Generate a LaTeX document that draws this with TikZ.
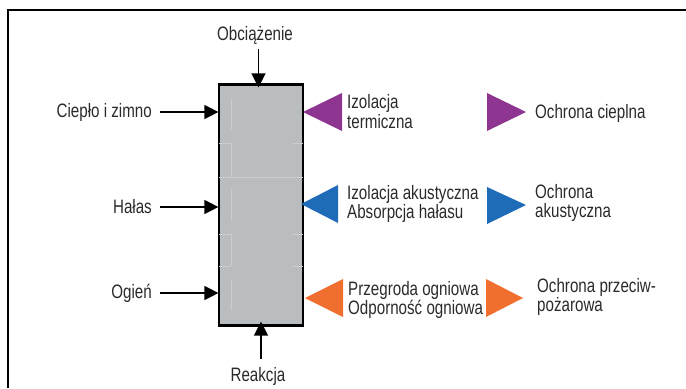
\documentclass[tikz,border=0pt]{standalone}
\usepackage{fontspec}
\setmainfont{Liberation Sans}[FakeStretch=0.78]
\usetikzlibrary{arrows.meta}
\definecolor{txt}{HTML}{2A2A2A}
\definecolor{wallgray}{HTML}{B9BDC0}
\definecolor{seam}{HTML}{CBCED0}
\definecolor{heatc}{HTML}{8E3491}
\definecolor{soundc}{HTML}{1E6BB8}
\definecolor{firec}{HTML}{F06E2E}
\tikzset{
  lbl/.style={text=txt, inner sep=0pt, font=\fontsize{19.5}{20}\selectfont},
  lbll/.style={lbl, anchor=west, align=left},
  lblr/.style={lbl, anchor=east},
  arr/.style={line width=1.4bp, -{Triangle[length=14bp,width=14bp]}},
  frame/.style={line width=2bp, black},
}
\begin{document}
\begin{tikzpicture}[x=1bp,y=-1bp]
\useasboundingbox (0,0) rectangle (686,388);
% open frame
\draw[frame] (8,388) -- (8,10) -- (686,10);

% the wall
\node[fill=wallgray, draw=black, line width=1.2bp, minimum width=84bp, minimum height=240bp, inner sep=0pt] (wall) at (261,205) {};
\begin{scope}[seam, line width=0.8bp]
  \draw (219,143) -- (231,143) (292,143) -- (303,143);
  \draw (219,177) -- (303,177);
  \draw (219,234) -- (231,234) (292,234) -- (303,234);
  \draw (219,266) -- (231,266) (292,266) -- (303,266);
  \draw (231,99) -- (231,130) (231,143) -- (231,177) (231,189) -- (231,220)
        (231,234) -- (231,266) (231,280) -- (231,310);
\end{scope}
\draw[line width=2.6bp] (wall.north west) -- (wall.north east);
\draw[line width=2.6bp] (wall.south west) -- (wall.south east);

% loads from outside
\node[lbl] (load) at (255,35) {Obciążenie};
\node[lbl] (react) at (258,376) {Reakcja};
\node[lblr] (heat) at (152,112) {Ciepło i zimno};
\node[lblr] (noise) at (152,207) {Hałas};
\node[lblr] (fire) at (152,293) {Ogień};

\draw[arr] ([xshift=3.5bp,yshift=-5bp]load.south) -- ([xshift=3.5bp,yshift=-3bp]load.south |- wall.north);
\draw[arr] ([xshift=3bp,yshift=8bp]react.north) -- ([xshift=3bp,yshift=4bp]react.north |- wall.south);
\draw[arr] ([xshift=8bp]heat.east) -- (heat.east -| wall.west);
\draw[arr] ([xshift=8bp]noise.east) -- (noise.east -| wall.west);
\draw[arr] ([xshift=8bp]fire.east) -- (fire.east -| wall.west);

% functions of the wall
\fill[heatc] (303,112) -- (342,93) -- (342,131) -- cycle;
\fill[soundc] (301,204) -- (338,185) -- (338,223) -- cycle;
\fill[firec] (305,298) -- (343,279) -- (343,317) -- cycle;
\node[lbll] (ti) at (347,112) {Izolacja\\termiczna};
\node[lbll] (ai) at (347,204) {Izolacja akustyczna\\Absorpcja hałasu};
\node[lbll] (fi) at (348,300) {Przegroda ogniowa\\Odporność ogniowa};

% resulting protection
\fill[heatc] (487,93) -- (526,112) -- (487,131) -- cycle;
\fill[soundc] (487,187) -- (526,205) -- (487,224) -- cycle;
\fill[firec] (486,279) -- (523,298) -- (486,317) -- cycle;
\node[lbll] (tp) at (535,113) {Ochrona cieplna};
\node[lbll] (ap) at (535,203) {Ochrona\\akustyczna};
\node[lbll] (fp) at (537,297) {Ochrona przeciw-\\pożarowa};
\end{tikzpicture}
\end{document}
